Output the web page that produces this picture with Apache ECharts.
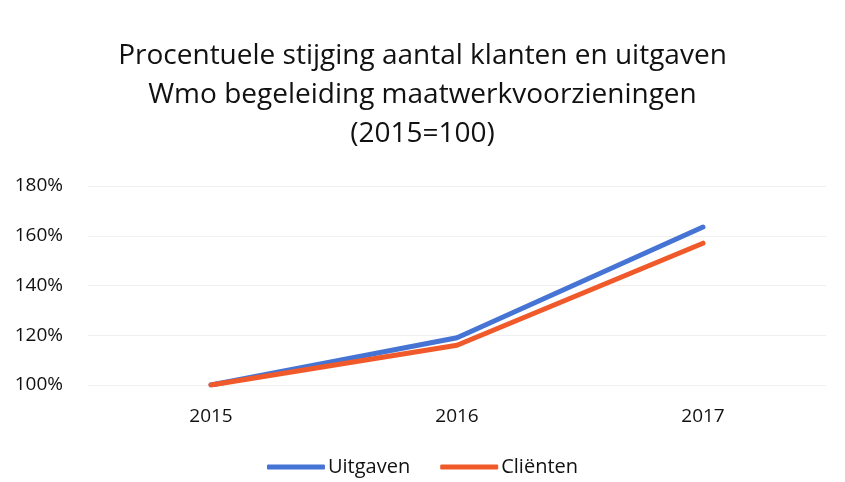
<!DOCTYPE html>
<html><head><meta charset="utf-8">
<script src="https://cdn.jsdelivr.net/npm/echarts@6/dist/echarts.min.js"></script>
<style>html,body{margin:0;padding:0;background:#fff}#c{width:845px;height:482px}</style>
</head><body><div id="c"></div>
<script>
const categories = ['2015', '2016', '2017'];
const uitgaven = [100, 119, 163.5];
const clienten = [100, 116, 157];
const yTicks = [100, 120, 140, 160, 180];

const font = '"Open Sans", "Liberation Sans", sans-serif';
const chart = echarts.init(document.getElementById('c'), null, {renderer: 'canvas'});
chart.setOption({
  animation: false,
  title: {
    text: 'Procentuele stijging aantal klanten en uitgaven\nWmo begeleiding maatwerkvoorzieningen\n(2015=100)',
    left: 'center', top: 32,
    textStyle: {fontFamily: font, fontSize: 28, fontWeight: 'normal', color: '#111', lineHeight: 39}
  },
  legend: {
    bottom: 0, left: 'center',
    itemWidth: 58, itemHeight: 5, itemGap: 30,
    icon: 'roundRect',
    textStyle: {fontFamily: font, fontSize: 20, color: '#111', padding: [0, 0, 0, -2]},
    data: ['Uitgaven', 'Cliënten']
  },
  grid: {left: 88, right: 19, top: 186, bottom: 97},
  xAxis: {
    type: 'category', data: categories, boundaryGap: true,
    axisLine: {show: false}, axisTick: {show: false},
    axisLabel: {fontFamily: font, fontSize: 19, color: '#111', margin: 22}
  },
  yAxis: {
    type: 'value', min: yTicks[0], max: yTicks[yTicks.length - 1], interval: 20,
    axisLine: {show: false}, axisTick: {show: false},
    splitLine: {lineStyle: {color: '#f0f0f0', width: 1}},
    axisLabel: {fontFamily: font, fontSize: 19, color: '#111', margin: 25, formatter: v => v + '%'}
  },
  series: [
    {name: 'Uitgaven', type: 'line', data: uitgaven, symbol: 'none',
     lineStyle: {color: '#4674D4', width: 5, cap: 'round'}, itemStyle: {color: '#4674D4'}},
    {name: 'Cliënten', type: 'line', data: clienten, symbol: 'none',
     lineStyle: {color: '#F05A2A', width: 5, cap: 'round'}, itemStyle: {color: '#F05A2A'}}
  ]
});
</script></body></html>
